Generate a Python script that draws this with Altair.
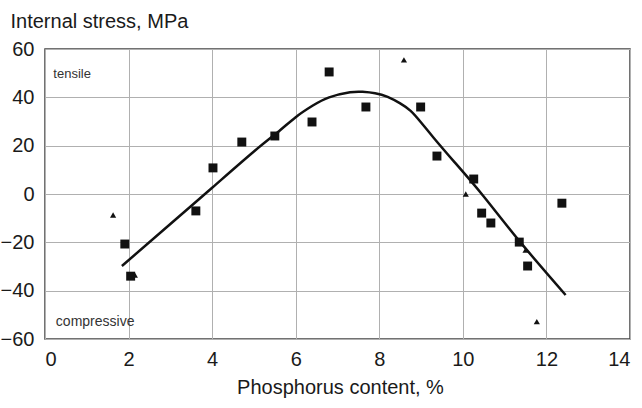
import altair as alt
import pandas as pd

# Squares (measured data)
sq_x = [1.91, 2.05, 3.61, 4.02, 4.71, 5.5, 6.39, 6.8, 7.68, 8.99, 9.38, 10.26, 10.45, 10.67, 11.35, 11.55, 12.37]
sq_y = [-20.7, -34, -7, 10.8, 21.5, 24, 29.8, 50.5, 36, 36, 15.7, 6.2, -7.9, -12, -19.9, -29.8, -3.8]

# Triangles
tri_x = [1.63, 2.15, 8.59, 10.07, 11.5, 11.77]
tri_y = [-8.7, -33.5, 55.5, 0, -23.2, -52.8]

# Fitted curve
curve_x = [1.84, 3.0, 4.0, 5.0, 5.6, 6.0, 6.4, 6.8, 7.3, 7.6, 7.9, 8.2, 8.5, 8.75, 9.0, 9.3, 9.8, 10.48, 11.36, 12.46]
curve_y = [-29.8, -12.4, 2.6, 17.6, 26.0, 31.8, 36.5, 40.0, 42.1, 42.3, 41.7, 40.2, 37.5, 34.4, 29.6, 23.3, 13.2, -0.6, -19.6, -41.8]

# Annotations
ann_text = ["tensile", "compressive"]
ann_x = [0.2, 0.26]
ann_y = [49.5, -53]
ann_size = [13, 14]

x_ticks = [0, 2, 4, 6, 8, 10, 12, 14]
y_ticks = [-60, -40, -20, 0, 20, 40, 60]

sq = pd.DataFrame({"x": sq_x, "y": sq_y})
tri = pd.DataFrame({"x": tri_x, "y": tri_y})
curve = pd.DataFrame({"x": curve_x, "y": curve_y, "o": list(range(len(curve_x)))})
ann = pd.DataFrame({"t": ann_text, "x": ann_x, "y": ann_y, "s": ann_size})

FONT = "Liberation Sans"
INK = "#1a1a1a"

xscale = alt.Scale(domain=[0, 14], nice=False, zero=False)
yscale = alt.Scale(domain=[-60, 60], nice=False, zero=False)

xaxis = alt.Axis(values=x_ticks, title="Phosphorus content, %", tickSize=0, labelPadding=10,
                 labelFontSize=20, labelColor=INK, labelFont=FONT, domain=False,
                 grid=True, gridColor="#b0b0b0", gridWidth=1,
                 titleFont=FONT, titleFontSize=20, titleFontWeight="normal", titleColor=INK,
                 titleX=295, titleY=54, titleBaseline="alphabetic", titleAlign="center")
yaxis = alt.Axis(values=y_ticks, title="Internal stress, MPa", tickSize=0, labelPadding=11,
                 labelFontSize=20, labelColor=INK, labelFont=FONT, domain=False,
                 grid=True, gridColor="#b0b0b0", gridWidth=1,
                 titleFont=FONT, titleFontSize=20, titleFontWeight="normal", titleColor=INK,
                 titleAngle=0, titleX=-35, titleY=-22, titleAlign="left", titleBaseline="alphabetic")

line = alt.Chart(curve).mark_line(color="#111", strokeWidth=2.5, interpolate="natural").encode(
    x=alt.X("x:Q", scale=xscale, axis=xaxis),
    y=alt.Y("y:Q", scale=yscale, axis=yaxis),
    order="o:Q",
)

squares = alt.Chart(sq).mark_point(shape="square", filled=True, size=80, color="#111", opacity=1).encode(
    x=alt.X("x:Q", scale=xscale),
    y=alt.Y("y:Q", scale=yscale),
)

triangles = alt.Chart(tri).mark_point(shape="triangle-up", filled=True, size=38, color="#111", opacity=1).encode(
    x=alt.X("x:Q", scale=xscale),
    y=alt.Y("y:Q", scale=yscale),
)

labels = alt.Chart(ann).mark_text(align="left", baseline="middle", font=FONT, color="#333").encode(
    x=alt.X("x:Q", scale=xscale),
    y=alt.Y("y:Q", scale=yscale),
    text="t:N",
    size=alt.Size("s:Q", scale=None, legend=None),
)

chart = alt.layer(line, squares, triangles, labels).properties(
    width=585, height=290,
    autosize=alt.AutoSizeParams(type="none"),
    padding={"left": 45, "top": 49, "right": 12, "bottom": 69},
    background="white",
).configure_view(stroke="#444", strokeWidth=1.5)

chart.save("out.html", embed_options={"renderer": "svg", "actions": False})
